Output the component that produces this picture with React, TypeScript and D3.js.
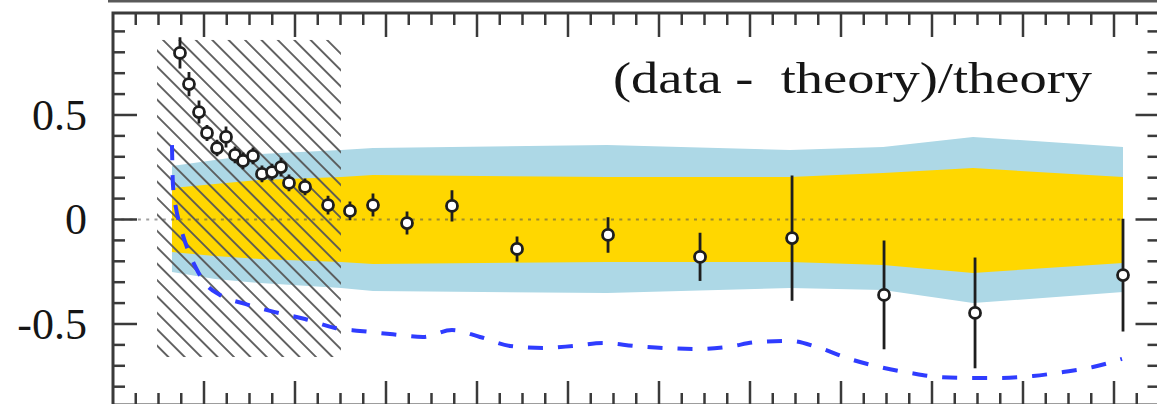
import React from 'react';
import * as d3 from 'd3';

const W = 1157;
const H = 404;

// Measured ratio points: position, (data - theory)/theory, symmetric uncertainty
const pointX = [0.736, 0.835, 0.945, 1.033, 1.143, 1.242, 1.341, 1.429, 1.538, 1.637, 1.747, 1.846, 1.934, 2.11, 2.363, 2.604, 2.857, 3.231, 3.725, 4.44, 5.44, 6.451, 7.462, 8.473, 9.473, 11.099];
const pointY = [0.797, 0.648, 0.514, 0.414, 0.342, 0.395, 0.309, 0.28, 0.304, 0.218, 0.227, 0.251, 0.175, 0.156, 0.069, 0.041, 0.069, -0.017, 0.065, -0.141, -0.074, -0.179, -0.089, -0.361, -0.447, -0.266];
const pointErr = [0.075, 0.058, 0.055, 0.038, 0.04, 0.05, 0.04, 0.04, 0.04, 0.04, 0.04, 0.045, 0.04, 0.04, 0.045, 0.045, 0.055, 0.055, 0.075, 0.06, 0.085, 0.115, 0.3, 0.26, 0.265, 0.27];

// Theory uncertainty bands (outer = light blue, inner = gold)
const bandX = [0.648, 1.121, 1.615, 2.505, 2.857, 5.429, 7.44, 8.462, 9.451, 11.099];
const outerHi = [0.256, 0.285, 0.313, 0.333, 0.342, 0.356, 0.333, 0.347, 0.395, 0.347];
const innerHi = [0.151, 0.17, 0.189, 0.203, 0.213, 0.203, 0.203, 0.222, 0.246, 0.203];
const innerLo = [-0.156, -0.175, -0.189, -0.203, -0.213, -0.203, -0.203, -0.218, -0.256, -0.208];
const outerLo = [-0.251, -0.285, -0.304, -0.328, -0.342, -0.352, -0.328, -0.337, -0.4, -0.347];

// Alternative prediction (dashed blue)
const altX = [0.648, 0.659, 0.692, 0.736, 0.824, 0.912, 1.011, 1.176, 1.451, 1.78, 2.11, 2.44, 2.714, 3.044, 3.407, 3.725, 4.033, 4.363, 4.725, 5.055, 5.385, 5.736, 6.066, 6.418, 6.747, 7.088, 7.44, 7.736, 8.066, 8.429, 8.758, 9.088, 9.418, 9.747, 10.11, 10.44, 10.769, 11.088];
const altY = [0.356, 0.165, 0.055, -0.026, -0.146, -0.232, -0.304, -0.361, -0.404, -0.443, -0.476, -0.519, -0.533, -0.548, -0.562, -0.529, -0.562, -0.605, -0.615, -0.605, -0.591, -0.605, -0.615, -0.62, -0.61, -0.586, -0.581, -0.61, -0.663, -0.706, -0.734, -0.754, -0.758, -0.758, -0.749, -0.73, -0.706, -0.667];

// Excluded region (hatched)
const hatchX = [0.484, 2.505];
const hatchY = [-0.658, 0.859];

const yMajor = [-0.5, 0, 0.5];
const yLabels = ['-0.5', '0', '0.5'];
const title = '(data -  theory)/theory';

const SERIF = '"Liberation Serif", "Times New Roman", Times, serif';

export default function App() {
  const left = 113;
  const top = 13;
  const right = 1159.5;
  const bottom = 405;

  const x = d3.scaleLinear().domain([0, 11.5]).range([left, right]);
  const y = d3.scaleLinear().domain([-0.8876, 0.988]).range([bottom, top]);

  const bandIdx = d3.range(bandX.length);
  const area = (hi: number[], lo: number[]) =>
    d3
      .area<number>()
      .x((i) => x(bandX[i]))
      .y0((i) => y(lo[i]))
      .y1((i) => y(hi[i]))
      .curve(d3.curveLinear)(bandIdx) || '';

  const altLine =
    d3
      .line<number>()
      .x((i) => x(altX[i]))
      .y((i) => y(altY[i]))
      .curve(d3.curveMonotoneX)(d3.range(altX.length)) || '';

  const xMajor = d3.range(1, 11.5 + 1e-6, 1);
  const xMinor = d3.range(0.25, 11.5, 0.25).filter((v) => Math.abs(v - Math.round(v)) > 1e-6);
  const yMinor = d3.range(-8, 10).map((k) => k / 10).filter((v) => Math.abs(v * 2 - Math.round(v * 2)) > 1e-6);

  const frameColor = '#3a3a3a';
  const tickW = 2.5;

  return (
    <svg
      width={W}
      height={H}
      style={{ position: 'absolute', left: 0, top: 0, display: 'block', background: '#fff' }}
    >
      <defs>
        <pattern
          id="hatch"
          patternUnits="userSpaceOnUse"
          width={11.6}
          height={11.6}
          patternTransform="rotate(45)"
        >
          <line x1={0} y1={5.8} x2={11.6} y2={5.8} stroke="#555" strokeWidth={1.8} />
        </pattern>
        <clipPath id="plotClip">
          <rect x={left} y={top} width={right - left} height={bottom - top} />
        </clipPath>
      </defs>

      {/* bottom frame of the panel above */}
      <rect x={108} y={0} width={W} height={2.5} fill="#5a5a5a" />

      <g clipPath="url(#plotClip)">
        <path d={area(outerHi, outerLo)} fill="#add8e6" />
        <path d={area(innerHi, innerLo)} fill="#ffd700" />

        <rect
          x={x(hatchX[0])}
          y={y(hatchY[1])}
          width={x(hatchX[1]) - x(hatchX[0])}
          height={y(hatchY[0]) - y(hatchY[1])}
          fill="url(#hatch)"
        />

        <line
          x1={left}
          x2={x(bandX[bandX.length - 1])}
          y1={y(0)}
          y2={y(0)}
          stroke="rgba(80,80,80,0.55)"
          strokeWidth={2}
          strokeDasharray="3 5.3"
        />

        <path
          d={altLine}
          fill="none"
          stroke="#2f3cff"
          strokeWidth={4}
          strokeDasharray="15 15"
        />

        {pointX.map((px, i) => (
          <line
            key={'e' + i}
            x1={x(px)}
            x2={x(px)}
            y1={y(pointY[i] + pointErr[i])}
            y2={y(pointY[i] - pointErr[i])}
            stroke="#1e1e1e"
            strokeWidth={2.8}
          />
        ))}
        {pointX.map((px, i) => (
          <circle
            key={'p' + i}
            cx={x(px)}
            cy={y(pointY[i])}
            r={5.5}
            fill="#ffffff"
            stroke="#1e1e1e"
            strokeWidth={2.8}
          />
        ))}
      </g>

      {/* frame */}
      <rect
        x={left}
        y={top}
        width={right - left}
        height={bottom - top}
        fill="none"
        stroke={frameColor}
        strokeWidth={3}
      />

      {/* x ticks, top and bottom, pointing inward */}
      {xMajor.map((v) => (
        <g key={'xM' + v}>
          <line x1={x(v)} x2={x(v)} y1={top} y2={top + 24} stroke={frameColor} strokeWidth={tickW} />
          <line x1={x(v)} x2={x(v)} y1={bottom} y2={bottom - 24} stroke={frameColor} strokeWidth={tickW} />
        </g>
      ))}
      {xMinor.map((v) => (
        <g key={'xm' + v}>
          <line x1={x(v)} x2={x(v)} y1={top} y2={top + 12} stroke={frameColor} strokeWidth={tickW} />
          <line x1={x(v)} x2={x(v)} y1={bottom} y2={bottom - 12} stroke={frameColor} strokeWidth={tickW} />
        </g>
      ))}

      {/* y ticks, left and right, pointing inward */}
      {yMajor.map((v) => (
        <g key={'yM' + v}>
          <line x1={left} x2={left + 24} y1={y(v)} y2={y(v)} stroke={frameColor} strokeWidth={tickW} />
          <line x1={right} x2={right - 24} y1={y(v)} y2={y(v)} stroke={frameColor} strokeWidth={tickW} />
        </g>
      ))}
      {yMinor.map((v) => (
        <g key={'ym' + v}>
          <line x1={left} x2={left + 12} y1={y(v)} y2={y(v)} stroke={frameColor} strokeWidth={tickW} />
          <line x1={right} x2={right - 12} y1={y(v)} y2={y(v)} stroke={frameColor} strokeWidth={tickW} />
        </g>
      ))}

      {/* y tick labels */}
      {yMajor.map((v, i) => (
        <text
          key={'yl' + v}
          x={87}
          y={y(v) + 15}
          textAnchor="end"
          fontFamily={SERIF}
          fontSize={44}
          fill="#151515"
        >
          {yLabels[i]}
        </text>
      ))}

      <text
        x={613}
        y={93}
        fontFamily={SERIF}
        fontSize={44}
        fill="#151515"
        textLength={479}
        lengthAdjust="spacingAndGlyphs"
        style={{ whiteSpace: 'pre' }}
      >
        {title}
      </text>
    </svg>
  );
}
